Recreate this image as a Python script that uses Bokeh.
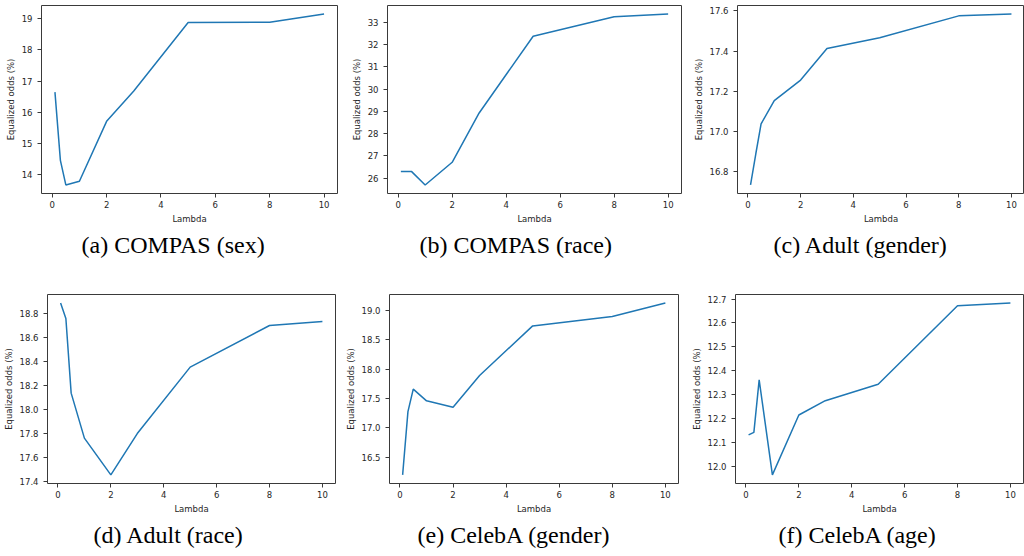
from bokeh.plotting import figure
from bokeh.models import FixedTicker, Title
from bokeh.layouts import row, column
from bokeh.embed import file_html
from bokeh.resources import INLINE

# ---------------- data ----------------
lambdas = [0.1, 0.3, 0.5, 1, 2, 3, 5, 8, 10]

compas_sex = [16.645, 14.46, 13.67, 13.79, 15.71, 16.68, 18.88, 18.89, 19.15]
compas_race = [26.29, 26.29, 26.29, 25.69, 26.71, 28.93, 32.38, 33.26, 33.38]
adult_gender = [16.735, 16.89, 17.038, 17.154, 17.256, 17.413, 17.466, 17.575, 17.584]
adult_race = [18.883, 18.755, 18.136, 17.763, 17.458, 17.801, 18.352, 18.697, 18.730]
celeba_gender = [16.197, 17.276, 17.658, 17.459, 17.349, 17.892, 18.736, 18.897, 19.125]
celeba_age = [12.131, 12.141, 12.361, 11.963, 12.214, 12.274, 12.343, 12.672, 12.683]

x_ticks = [0, 2, 4, 6, 8, 10]
yticks_a = [14, 15, 16, 17, 18, 19]
yticks_b = [26, 27, 28, 29, 30, 31, 32, 33]
yticks_c = [16.8, 17.0, 17.2, 17.4, 17.6]
yticks_d = [17.4, 17.6, 17.8, 18.0, 18.2, 18.4, 18.6, 18.8]
yticks_e = [16.5, 17.0, 17.5, 18.0, 18.5, 19.0]
yticks_f = [12.0, 12.1, 12.2, 12.3, 12.4, 12.5, 12.6, 12.7]

captions = ["(a) COMPAS (sex)", "(b) COMPAS (race)", "(c) Adult (gender)",
            "(d) Adult (race)", "(e) CelebA (gender)", "(f) CelebA (age)"]
series = [compas_sex, compas_race, adult_gender, adult_race, celeba_gender, celeba_age]
yticks = [yticks_a, yticks_b, yticks_c, yticks_d, yticks_e, yticks_f]
ydecimals = [0, 0, 1, 1, 1, 1]

# ---------------- layout (pixels) ----------------
# (width, height, left, right, top, bottom, caption offset from frame left)
geom = [
    (341, 280, 41, 4, 0, 87, 40),
    (341, 280, 46, 1, 0, 87, 32),
    (342, 280, 55, 0, 5, 87, 36),
    (341, 276, 45, 6, 14, 73, 46),
    (341, 276, 48, 4, 14, 73, 28),
    (342, 276, 53, 1, 14, 73, 43),
]

TXT = "#262626"
LINE = "#1f77b4"


def make(i):
    w, h, bl, br, bt, bb, coff = geom[i]
    ys = series[i]
    lo, hi = min(ys), max(ys)
    pad = (hi - lo) * 0.05
    xlo, xhi = min(lambdas), max(lambdas)
    xpad = (xhi - xlo) * 0.05
    p = figure(width=w, height=h, output_backend="svg", toolbar_location=None,
               x_range=(xlo - xpad, xhi + xpad), y_range=(lo - pad, hi + pad),
               min_border_left=bl, min_border_right=br,
               min_border_top=bt, min_border_bottom=bb)
    p.line(lambdas, ys, line_color=LINE, line_width=1.5)
    p.grid.visible = False
    p.outline_line_color = "#3a3a3a"
    p.outline_line_width = 1
    p.background_fill_color = "white"
    p.border_fill_color = "white"

    for ax in (p.xaxis[0], p.yaxis[0]):
        ax.axis_line_color = None
        ax.major_tick_line_color = "#3a3a3a"
        ax.major_tick_in = 0
        ax.major_tick_out = 4
        ax.minor_tick_line_color = None
        ax.major_label_text_font = "DejaVu Sans"
        ax.major_label_text_font_size = "8.5px"
        ax.major_label_text_color = TXT
        ax.axis_label_text_font = "DejaVu Sans"
        ax.axis_label_text_font_size = "8.5px"
        ax.axis_label_text_font_style = "normal"
        ax.axis_label_text_color = TXT

    p.xaxis[0].ticker = FixedTicker(ticks=x_ticks)
    p.xaxis[0].major_label_overrides = {t: str(t) for t in x_ticks}
    p.xaxis[0].axis_label = "Lambda"
    p.xaxis[0].major_label_standoff = 3
    p.xaxis[0].axis_label_standoff = 3

    yt = yticks[i]
    p.yaxis[0].ticker = FixedTicker(ticks=yt)
    fmt = "{:.%df}" % ydecimals[i]
    p.yaxis[0].major_label_overrides = {t: fmt.format(t) for t in yt}
    p.yaxis[0].axis_label = "Equalized odds (%)"
    p.yaxis[0].major_label_standoff = 5
    p.yaxis[0].axis_label_standoff = 3

    cap = Title(text=captions[i], align="left", offset=coff,
                text_font="Liberation Serif", text_font_size="24px",
                text_font_style="normal", text_color="black", standoff=7)
    p.add_layout(cap, "below")
    return p


figs = [make(i) for i in range(6)]
layout = column(row(*figs[:3], spacing=0), row(*figs[3:], spacing=0), spacing=0)

open("out.html", "w").write(file_html(layout, INLINE))
